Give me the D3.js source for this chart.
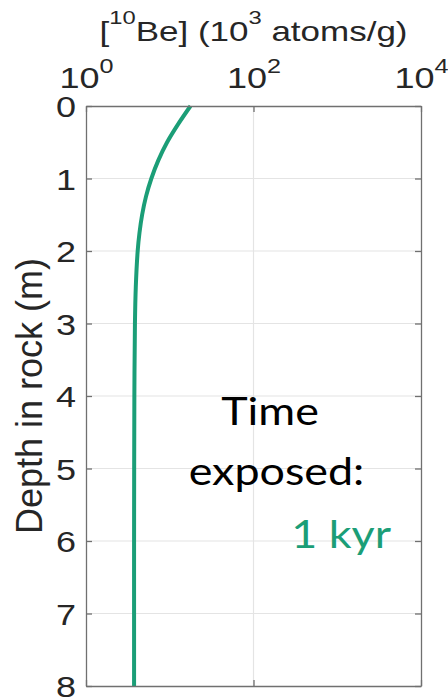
<!DOCTYPE html>
<html>
<head>
<meta charset="utf-8">
<script src="https://cdn.jsdelivr.net/npm/d3@7"></script>
<style>
  html, body { margin: 0; padding: 0; background: #fff; }
  svg { display: block; }
</style>
</head>
<body>
<svg id="chart" width="448" height="697"></svg>
<script>
// Depth profile of 10Be concentration after 1 kyr of exposure
const depthM   = [0, 0.25, 0.5, 0.75, 1, 1.25, 1.5, 1.75, 2, 2.5, 3, 4, 5, 6, 7, 8];
const be10Conc = [17.7, 12.6, 9.3, 7.3, 6.03, 5.2, 4.68, 4.35, 4.14, 3.93, 3.84, 3.78, 3.76, 3.75, 3.75, 3.75];

const depthTicks = [0, 1, 2, 3, 4, 5, 6, 7, 8];
const concTicks  = [1, 100, 10000];
const concTickExp = ["0", "2", "4"];

const noteLines = ["Time", "exposed:"];
const exposureLabel = "1 kyr";

const box = { left: 86, right: 421, top: 106, bottom: 686 };
const sx = 1.2;                // horizontal widening applied to tick text
const green = "#1b9e77";
const axisColor = "#707070";
const textColor = "#262626";
const gridColor = "#e4e4e4";
const helv = "'Liberation Sans', Arial, Helvetica, sans-serif";
const noteFont = "Lato, 'Open Sans', sans-serif";

const svg = d3.select("#chart");

const x = d3.scaleLog().domain([1, 1e4]).range([box.left, box.right]);
const y = d3.scaleLinear().domain([0, 8]).range([box.top, box.bottom]);

// grid
const grid = svg.append("g");
grid.selectAll("line.h").data(depthTicks.slice(1, -1)).join("line")
  .attr("class", "h")
  .attr("x1", box.left).attr("x2", box.right)
  .attr("y1", d => y(d)).attr("y2", d => y(d))
  .attr("stroke", gridColor).attr("stroke-width", 1.2);
grid.selectAll("line.v").data(concTicks.slice(1, -1)).join("line")
  .attr("class", "v")
  .attr("x1", d => x(d)).attr("x2", d => x(d))
  .attr("y1", box.top).attr("y2", box.bottom)
  .attr("stroke", gridColor).attr("stroke-width", 1.2);

// concentration profile
const profile = d3.line()
  .x((d, i) => x(be10Conc[i]))
  .y(d => y(d))
  .curve(d3.curveCatmullRom.alpha(0.5));

svg.append("path")
  .datum(depthM)
  .attr("d", profile)
  .attr("fill", "none")
  .attr("stroke", green)
  .attr("stroke-width", 4)
  .attr("stroke-linejoin", "round");

// axes (inward ticks on all four sides)
function styleAxis(g) {
  g.select(".domain").attr("stroke", axisColor).attr("stroke-width", 1.3);
  g.selectAll(".tick line").attr("stroke", axisColor).attr("stroke-width", 1.3);
}

const gTop = svg.append("g").attr("transform", `translate(0,${box.top})`)
  .call(d3.axisTop(x).tickValues(concTicks).tickSize(-6).tickSizeOuter(0).tickFormat(() => ""))
  .call(styleAxis);

gTop.selectAll(".tick text").remove();
gTop.selectAll(".tick").each(function (d, i) {
  const t = d3.select(this).append("text")
    .attr("transform", `translate(0,-18.5) scale(${sx},1)`)
    .attr("text-anchor", "middle")
    .attr("fill", textColor)
    .attr("font-family", helv)
    .attr("font-size", 30);
  t.append("tspan").text("10");
  t.append("tspan").attr("dy", -15).attr("font-size", 21).text(concTickExp[i]);
});

svg.append("g").attr("transform", `translate(0,${box.bottom})`)
  .call(d3.axisBottom(x).tickValues(concTicks).tickSize(-6).tickSizeOuter(0).tickFormat(() => ""))
  .call(styleAxis)
  .selectAll(".tick text").remove();

const gLeft = svg.append("g").attr("transform", `translate(${box.left},0)`)
  .call(d3.axisLeft(y).tickValues(depthTicks).tickSize(-6).tickSizeOuter(0).tickFormat(d3.format("d")))
  .call(styleAxis);

gLeft.selectAll(".tick text")
  .attr("x", 0)
  .attr("dy", "0.36em")
  .attr("transform", `translate(-10,0) scale(${sx},1)`)
  .attr("text-anchor", "end")
  .attr("fill", textColor)
  .attr("font-family", helv)
  .attr("font-size", 30);

svg.append("g").attr("transform", `translate(${box.right},0)`)
  .call(d3.axisRight(y).tickValues(depthTicks).tickSize(-6).tickSizeOuter(0).tickFormat(() => ""))
  .call(styleAxis)
  .selectAll(".tick text").remove();

// axis titles
const title = svg.append("text")
  .attr("transform", `translate(${(box.left + box.right) / 2},41) scale(1.25,1)`)
  .attr("text-anchor", "middle")
  .attr("fill", textColor)
  .attr("font-family", helv)
  .attr("font-size", 28);
title.append("tspan").text("[");
title.append("tspan").attr("dy", -17).attr("font-size", 19).text("10");
title.append("tspan").attr("dy", 17).text("Be] (10");
title.append("tspan").attr("dy", -17).attr("font-size", 19).text("3");
title.append("tspan").attr("dy", 17).text(" atoms/g)");

svg.append("text")
  .attr("transform", `translate(42,${(box.top + box.bottom) / 2}) rotate(-90)`)
  .attr("text-anchor", "middle")
  .attr("fill", textColor)
  .attr("font-family", helv)
  .attr("font-size", 36)
  .text("Depth in rock (m)");

// annotation
function note(str, px, py, anchor, color) {
  svg.append("text")
    .attr("transform", `translate(${px},${py}) scale(1.18,1)`)
    .attr("text-anchor", anchor)
    .attr("font-family", noteFont)
    .attr("font-size", 38)
    .attr("fill", color)
    .text(str);
}
note(noteLines[0], 270, 425, "middle", "#000");
note(noteLines[1], 276.5, 485, "middle", "#000");
note(exposureLabel, 391, 548, "end", green);
</script>
</body>
</html>
